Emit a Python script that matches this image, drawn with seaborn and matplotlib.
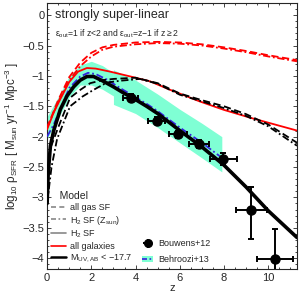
import numpy as np
import pandas as pd
import matplotlib
matplotlib.use("Agg")
import matplotlib.pyplot as plt
import seaborn as sns
from matplotlib.lines import Line2D
from matplotlib.patches import Patch
from matplotlib.ticker import MultipleLocator

# ---------------- data ----------------
z_red_d = [0, 0.5, 1.0, 1.5, 2.0, 2.5, 3.0, 4, 5, 6, 7, 8, 9, 10, 11.3]
y_red_d = [-1.85, -1.4, -1.02, -0.78, -0.62, -0.53, -0.49, -0.45, -0.44, -0.45, -0.48, -0.53, -0.59, -0.66, -0.74]
z_red_dd = [0, 0.5, 1.0, 1.5, 2.0, 2.5, 3.0, 4, 5, 6, 7, 8, 9, 10, 11.3]
y_red_dd = [-1.85, -1.43, -1.07, -0.84, -0.68, -0.57, -0.52, -0.48, -0.46, -0.47, -0.5, -0.55, -0.61, -0.68, -0.76]
z_red_s = [0, 0.3, 0.6, 1.0, 1.4, 1.8, 2.2, 2.85, 4, 4.66, 5.5, 6.9, 8, 9.2, 10, 11.3]
y_red_s = [-1.88, -1.6, -1.38, -1.1, -0.93, -0.87, -0.88, -0.93, -1.03, -1.09, -1.22, -1.42, -1.56, -1.69, -1.77, -1.9]

z_blk_d = [0, 0.14, 0.5, 1.04, 1.5, 1.95, 2.5, 3, 4, 5, 6, 7, 8, 9, 10, 11.3]
y_blk_d = [-2.7, -2.2, -1.85, -1.36, -1.23, -1.12, -1.07, -1.05, -1.03, -1.12, -1.29, -1.4, -1.5, -1.63, -1.8, -2.1]
z_blk_dd = [0, 0.2, 0.45, 1.04, 1.6, 2.1, 2.7, 3.3, 4.2, 5, 6, 7, 8, 9, 10, 11.3]
y_blk_dd = [-3.1, -2.5, -2.04, -1.5, -1.34, -1.23, -1.11, -1.08, -1.05, -1.13, -1.31, -1.42, -1.53, -1.66, -1.83, -2.15]
z_blk_s = [0, 0.05, 0.15, 0.3, 0.6, 0.9, 1.2, 1.5, 1.8, 2.1, 2.5, 3, 3.5, 4, 4.5, 5, 6, 7, 8, 9, 10, 11.3]
y_blk_s = [-3.1, -2.6, -2.15, -1.9, -1.55, -1.33, -1.18, -1.07, -1.01, -1.01, -1.08, -1.18, -1.29, -1.39, -1.5, -1.62, -1.9, -2.17, -2.47, -2.83, -3.22, -3.66]

z_beh = [0, 0.3, 0.6, 1.0, 1.5, 1.85, 2.2, 2.7, 3.3, 3.9, 4.5, 5, 6, 7, 7.8]
y_beh = [-2.0, -1.8, -1.55, -1.2, -1.01, -0.95, -0.97, -1.06, -1.2, -1.33, -1.46, -1.58, -1.85, -2.1, -2.32]

z_band1 = [0, 0.5, 1.0, 1.5, 2.0, 2.5, 3.0]
band1_hi = [-1.67, -1.35, -1.0, -0.82, -0.76, -0.83, -0.95]
band1_lo = [-2.04, -1.7, -1.35, -1.15, -1.15, -1.22, -1.33]
z_band2 = [3.0, 4, 5, 6, 7, 7.9]
band2_hi = [-0.9, -1.07, -1.3, -1.55, -1.78, -2.0]
band2_lo = [-1.47, -1.62, -1.85, -2.1, -2.35, -2.58]

z_bou = [3.78, 4.95, 5.92, 6.85, 7.97, 9.23, 10.3]
y_bou = [-1.36, -1.74, -1.96, -2.12, -2.37, -3.2, -4.02]
xerr_bou = [0.34, 0.4, 0.4, 0.45, 0.6, 0.7, 0.8]
yerr_lo = [0.06, 0.06, 0.06, 0.06, 0.1, 0.48, 0.5]
yerr_hi = [0.06, 0.06, 0.06, 0.06, 0.1, 0.37, 0.5]

# ---------------- figure ----------------
sns.set_style("ticks")
plt.rcParams['font.family'] = ['Liberation Sans', 'DejaVu Sans']
plt.rcParams['mathtext.fontset'] = 'custom'
plt.rcParams['mathtext.rm'] = 'Liberation Sans'
plt.rcParams['mathtext.it'] = 'Liberation Sans'

fig = plt.figure(figsize=(3.0, 2.98), dpi=100)
ax = fig.add_axes([0.157, 0.097, 0.833, 0.893])

cyan = '#7fffd4'
ax.fill_between(z_band1, band1_lo, band1_hi, color=cyan, lw=0, zorder=1)
ax.fill_between(z_band2, band2_lo, band2_hi, color=cyan, lw=0, zorder=1)

sns.lineplot(x=z_beh, y=y_beh, ax=ax, color='#3322dd', lw=1.3, linestyle=(0, (4, 1.5, 1, 1.5)), zorder=3)
sns.lineplot(x=z_red_d, y=y_red_d, ax=ax, color='red', lw=1.3, linestyle=(0, (4, 2)), zorder=4)
sns.lineplot(x=z_red_dd, y=y_red_dd, ax=ax, color='red', lw=1.3, linestyle=(0, (4, 1.5, 1, 1.5)), zorder=4)
sns.lineplot(x=z_red_s, y=y_red_s, ax=ax, color='red', lw=1.3, zorder=4)
sns.lineplot(x=z_blk_d, y=y_blk_d, ax=ax, color='black', lw=1.3, linestyle=(0, (4, 2)), zorder=4)
sns.lineplot(x=z_blk_dd, y=y_blk_dd, ax=ax, color='black', lw=1.3, linestyle=(0, (4, 1.5, 1, 1.5)), zorder=4)
sns.lineplot(x=z_blk_s, y=y_blk_s, ax=ax, color='black', lw=2.6, zorder=5)

ax.errorbar(z_bou, y_bou, xerr=xerr_bou, yerr=[yerr_lo, yerr_hi], fmt='o', color='black',
            ms=6.5, elinewidth=1.4, capsize=2.5, capthick=1.4, zorder=6)

ax.set_xlim(0, 11.3)
ax.set_ylim(-4.18, 0.2)
ax.xaxis.set_major_locator(MultipleLocator(2))
ax.xaxis.set_minor_locator(MultipleLocator(0.5))
ax.yaxis.set_major_locator(MultipleLocator(0.5))
ax.yaxis.set_minor_locator(MultipleLocator(0.1))
ax.set_yticks([0, -0.5, -1, -1.5, -2, -2.5, -3, -3.5, -4])
ax.set_yticklabels(['0', '\u22120.5', '\u22121', '\u22121.5', '\u22122', '\u22122.5', '\u22123', '\u22123.5', '\u22124'])
ax.tick_params(which='both', direction='in', top=True, right=True, labelsize=8, width=0.6)
ax.tick_params(which='major', length=3)
ax.tick_params(which='minor', length=1.5)
ax.tick_params(axis='y', pad=2)
ax.tick_params(axis='x', pad=3)
for s in ax.spines.values():
    s.set_linewidth(0.8)

ax.set_xlabel('z', fontsize=8, labelpad=0)
ax.set_ylabel(r'log$_{10}$ $\rho_{\rm SFR}$ [ M$_{\rm sun}$ yr$^{-1}$ Mpc$^{-3}$ ]', fontsize=8.3, labelpad=1)

ax.text(0.03, 0.955, 'strongly super-linear', transform=ax.transAxes, fontsize=9, va='center', ha='left')
ax.text(0.03, 0.885, r'$\varepsilon_{\rm out}$=1 if z<2 and $\varepsilon_{\rm out}$=z$-$1 if z$\geq$2',
        transform=ax.transAxes, fontsize=6.2, va='center', ha='left')

gray = '#888888'
h1 = [Line2D([], [], color=gray, lw=1.2, linestyle=(0, (3, 2))),
      Line2D([], [], color=gray, lw=1.2, linestyle=(0, (3, 1.5, 1, 1.5))),
      Line2D([], [], color=gray, lw=1.2),
      Line2D([], [], color='red', lw=1.2),
      Line2D([], [], color='black', lw=1.8)]
l1 = ['all gas SF', r'H$_2$ SF (Z$_{\rm sun}$)', r'H$_2$ SF', 'all galaxies', r'M$_{\rm UV,AB}$ < $-$17.7']
leg1 = ax.legend(h1, l1, title='   Model', loc='lower left', bbox_to_anchor=(-0.01, -0.005),
                 frameon=False, fontsize=6.5, title_fontsize=7.5, handlelength=1.7, handletextpad=0.4,
                 labelspacing=0.2, borderpad=0.2)
leg1._legend_box.align = 'left'
ax.add_artist(leg1)

eb_handle = ax.errorbar([], [], xerr=[], yerr=[], fmt='o', color='black', ms=5.5, capsize=2)
h2 = [eb_handle, (Patch(facecolor=cyan, lw=0), Line2D([], [], color='#3322dd', lw=1.2, linestyle=(0, (3, 1.5, 1, 1.5))))]
l2 = ['Bouwens+12', 'Behroozi+13']
ax.legend(h2, l2, loc='lower left', bbox_to_anchor=(0.355, -0.005), frameon=False, fontsize=6.5,
          handlelength=1.2, handletextpad=0.6, labelspacing=0.75, borderpad=0.2)

fig.savefig('out.png', dpi=100)
